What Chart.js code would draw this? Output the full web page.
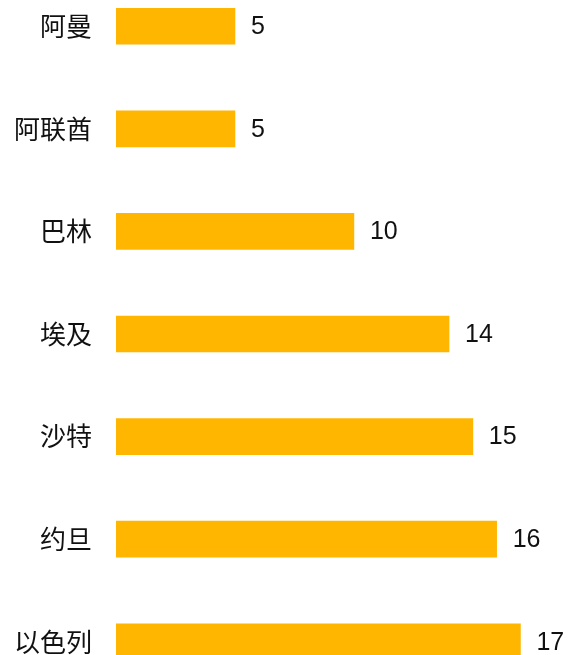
<!DOCTYPE html>
<html>
<head>
<meta charset="utf-8">
<script src="https://cdn.jsdelivr.net/npm/chart.js@4/dist/chart.umd.min.js"></script>
<style>
  html, body { margin: 0; padding: 0; background: #fff; }
  #wrap { width: 574px; height: 655px; position: relative; overflow: hidden; }
  /* the picture is a crop of a taller chart: top and bottom half-rows are cut */
  #inner { position: absolute; left: 0; top: -25px; width: 574px; height: 718px; }
</style>
</head>
<body>
<div id="wrap"><div id="inner"><canvas id="myChart"></canvas></div></div>
<script>
// data
const countries = ['阿曼', '阿联酋', '巴林', '埃及', '沙特', '约旦', '以色列'];
const counts = [5, 5, 10, 14, 15, 16, 17];

const barColor = '#FFB600';
const textColor = '#111111';

// value text to the right of each bar
const valueLabels = {
  id: 'valueLabels',
  afterDatasetsDraw(chart) {
    const ctx = chart.ctx;
    const meta = chart.getDatasetMeta(0);
    ctx.save();
    ctx.font = '25px "Liberation Sans", Arial, sans-serif';
    ctx.fillStyle = textColor;
    ctx.textAlign = 'left';
    ctx.textBaseline = 'middle';
    meta.data.forEach(function(bar, i) {
      ctx.fillText(String(counts[i]), bar.x + 16, bar.y + 1);
    });
    ctx.restore();
  }
};

new Chart(document.getElementById('myChart'), {
  type: 'bar',
  data: {
    labels: countries,
    datasets: [{
      data: counts,
      backgroundColor: barColor,
      borderWidth: 0,
      barThickness: 36
    }]
  },
  options: {
    indexAxis: 'y',
    responsive: true,
    maintainAspectRatio: false,
    animation: false,
    layout: { padding: { top: 0, bottom: 0, left: 0, right: 6 } },
    plugins: {
      legend: { display: false },
      tooltip: { enabled: false }
    },
    scales: {
      x: {
        display: false,
        min: 0,
        max: 19
      },
      y: {
        grid: { display: false, drawTicks: false },
        border: { display: false },
        ticks: {
          padding: 24,
          color: textColor,
          font: { family: '"Noto Sans CJK SC", sans-serif', size: 26 }
        },
        afterFit: function(scale) {
          scale.width = 116;
          scale.paddingTop = 0;
          scale.paddingBottom = 0;
        }
      }
    }
  },
  plugins: [valueLabels]
});
</script>
</body>
</html>
